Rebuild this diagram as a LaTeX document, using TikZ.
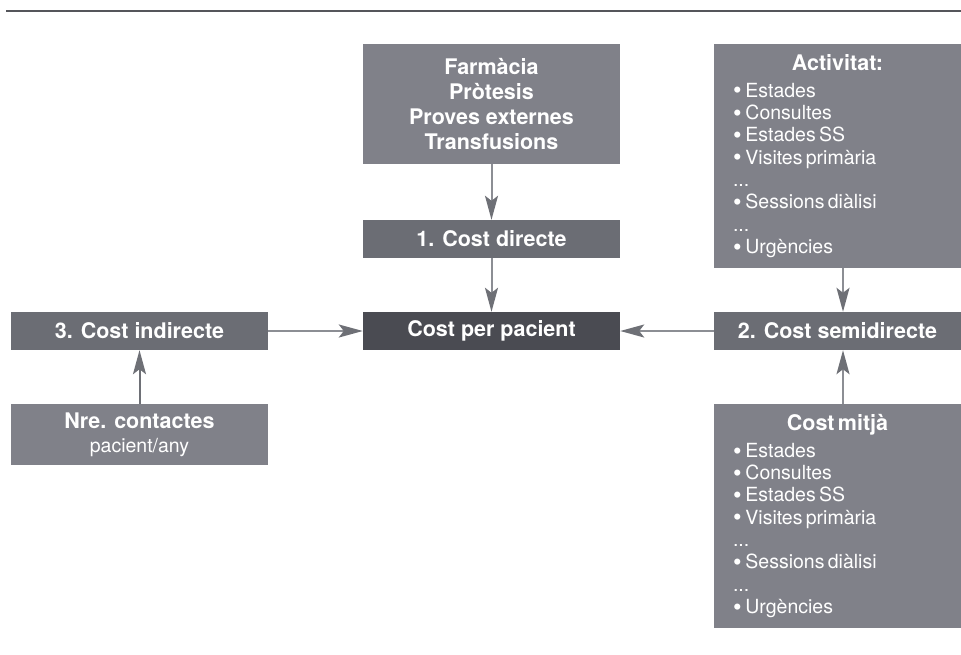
\documentclass[tikz,border=0pt]{standalone}
\usepackage{fontspec}
\setmainfont{TeX Gyre Heros}
\usepackage{xcolor}
\usepackage{graphicx}
\usetikzlibrary{
  arrows.meta,
  positioning
}

\definecolor{boxlight}{HTML}{808189}
\definecolor{boxmid}{HTML}{6B6D74}
\definecolor{boxdark}{HTML}{4A4B52}
\definecolor{arrowgray}{HTML}{8C8E94}
\definecolor{tipgray}{HTML}{6E7076}
\definecolor{ruledark}{HTML}{55565B}

\tikzset{
  box/.style={fill=#1, text=white, inner sep=0pt, align=center},
  titlefont/.style={font=\fontsize{21.5}{25}\selectfont\bfseries},
  flow/.style={draw=arrowgray, line width=2pt,
    -{Stealth[length=24pt, width=13pt, inset=5pt, color=tipgray, fill=tipgray]}},
  flowdark/.style={flow, draw=tipgray}
}

\newcommand{\itemsize}{\fontsize{19.5}{22.3}\selectfont}
\newcommand{\bul}{\smash{\raisebox{-0.09em}{\scalebox{1.25}{\textbullet}}}\hspace{0.2em}}

\begin{document}
\begin{tikzpicture}[x=1pt, y=-1pt]
  \useasboundingbox (0,0) rectangle (961,654);
  \draw[ruledark, line width=2.5pt] (6,11) -- (961,11);

  % central column
  \node[box=boxlight, titlefont, minimum width=257pt, minimum height=120pt]
    (farm) at (491.5,104) {Farmàcia\\Pròtesis\\Proves externes\\Transfusions};
  \node[box=boxmid, titlefont, minimum width=257pt, minimum height=38pt]
    (directe) at (491.5,239) {1. Cost directe};
  \node[box=boxdark, titlefont, minimum width=257pt, minimum height=38pt]
    (pacient) at (491.5,331) {Cost per pacient};

  % left column
  \node[box=boxmid, titlefont, minimum width=257pt, minimum height=38pt]
    (indirecte) at (139.5,331) {3. Cost indirecte};
  \node[box=boxlight, minimum width=257pt, minimum height=61pt,
        font=\fontsize{19.5}{24}\selectfont]
    (contactes) at (139.5,434.5)
    {{\fontsize{21.5}{24}\selectfont\bfseries Nre. contactes}\\pacient/any};

  % right column
  \node[box=boxlight, minimum width=247pt, minimum height=224pt,
        text width=209pt, inner xsep=19pt, align=left]
    (activitat) at (837.5,156)
    {{\centering\fontsize{21.5}{25}\selectfont\bfseries Activitat:\par}
     \vspace{4.5pt}\itemsize
     \bul Estades\\
     \bul Consultes\\
     \bul Estades SS\\
     \bul Visites primària\\
     ...\\
     \bul Sessions diàlisi\\
     ...\\
     \bul Urgències\par};
  \node[box=boxmid, titlefont, minimum width=247pt, minimum height=38pt]
    (semi) at (837.5,331) {2. Cost semidirecte};
  \node[box=boxlight, minimum width=247pt, minimum height=224pt,
        text width=209pt, inner xsep=19pt, align=left]
    (mitja) at (837.5,516)
    {{\centering\fontsize{21.5}{25}\selectfont\bfseries Cost mitjà\par}
     \vspace{4.5pt}\itemsize
     \bul Estades\\
     \bul Consultes\\
     \bul Estades SS\\
     \bul Visites primària\\
     ...\\
     \bul Sessions diàlisi\\
     ...\\
     \bul Urgències\par};

  % connectors
  \draw[flow] (farm.south) -- (directe.north);
  \draw[flow] (directe.south) -- (pacient.north);
  \draw[flow] (indirecte.east) -- (pacient.west);
  \draw[flow] (semi.west) -- (pacient.east);
  \draw[flow] ([xshift=5.5pt]activitat.south) -- ([xshift=5.5pt]semi.north);
  \draw[flow] ([xshift=5.5pt]mitja.north) -- ([xshift=5.5pt]semi.south);
  \draw[flowdark] (contactes.north) -- (indirecte.south);
\end{tikzpicture}
\end{document}
